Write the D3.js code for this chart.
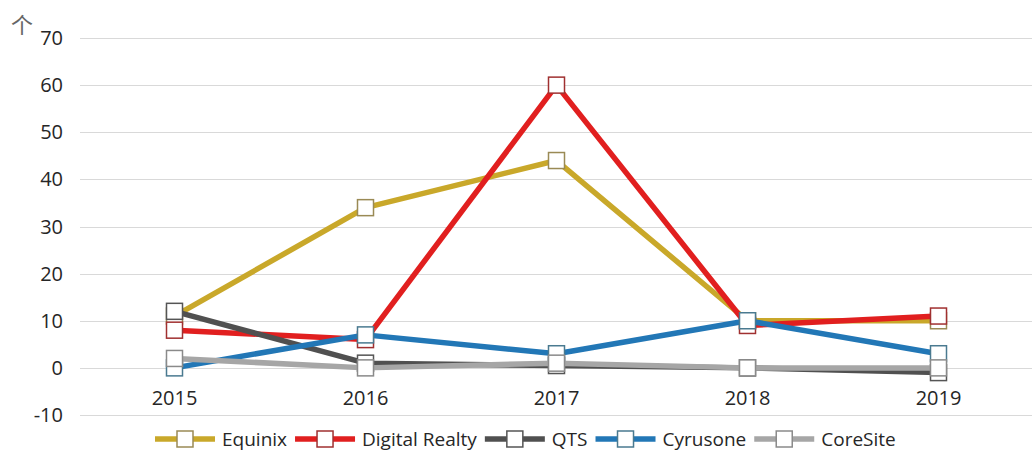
<!DOCTYPE html>
<html>
<head>
    <meta charset="UTF-8">
    <title>数据中心</title>
    <style>
        body { margin: 0; background: #fff; }
        text { font-family: "Open Sans", "Noto Sans", sans-serif; fill: #262626; }
    </style>
</head>
<body>
    <svg id="chart"></svg>
    <script src="https://cdn.jsdelivr.net/npm/d3@7"></script>
    <script>
        const width = 1032;
        const height = 452;

        // data
        const years = ['2015', '2016', '2017', '2018', '2019'];
        const seriesNames = ['Equinix', 'Digital Realty', 'QTS', 'Cyrusone', 'CoreSite'];
        const equinix = [11, 34, 44, 10, 10];
        const digitalRealty = [8, 6, 60, 9, 11];
        const qts = [12, 1, 0.5, 0, -1];
        const cyrusone = [0, 7, 3, 10, 3];
        const coresite = [2, 0, 1, 0, 0];
        const yTicks = [-10, 0, 10, 20, 30, 40, 50, 60, 70];
        const unitLabel = '个';

        const lineColors = ['#c9a82a', '#e11f1f', '#505050', '#2277b6', '#a6a6a6'];
        const markerStroke = ['#9a8a55', '#a03030', '#555555', '#4a7a90', '#8a8a8a'];
        const allValues = [equinix, digitalRealty, qts, cyrusone, coresite];
        const series = seriesNames.map((name, i) => ({ name: name, values: allValues[i], color: lineColors[i], mark: markerStroke[i] }));

        const svg = d3.select('#chart')
            .attr('width', width)
            .attr('height', height);

        const x = d3.scalePoint()
            .domain(years)
            .range([79, 1034])
            .padding(0.5);

        const y = d3.scaleLinear()
            .domain([-10, 70])
            .range([415, 38]);

        // gridlines
        svg.append('g')
            .selectAll('line')
            .data(yTicks)
            .enter()
            .append('line')
            .attr('x1', 80)
            .attr('x2', width)
            .attr('y1', d => Math.round(y(d)) + 0.5)
            .attr('y2', d => Math.round(y(d)) + 0.5)
            .style('stroke', '#d9d9d9')
            .style('stroke-width', 1);

        // y labels
        svg.append('g')
            .selectAll('text')
            .data(yTicks)
            .enter()
            .append('text')
            .attr('x', 63)
            .attr('y', d => y(d))
            .attr('dy', '0.35em')
            .attr('text-anchor', 'end')
            .style('font-size', '20px')
            .text(d => d);

        // x labels
        svg.append('g')
            .selectAll('text')
            .data(years)
            .enter()
            .append('text')
            .attr('x', d => x(d))
            .attr('y', 398)
            .attr('dy', '0.35em')
            .attr('text-anchor', 'middle')
            .style('font-size', '20px')
            .text(d => d);

        svg.append('text')
            .attr('x', 22)
            .attr('y', 33)
            .attr('text-anchor', 'middle')
            .style('font-family', '"Noto Sans CJK SC", sans-serif')
            .style('font-size', '22px')
            .style('fill', '#666')
            .text(unitLabel);

        const line = d3.line()
            .x((d, i) => x(years[i]))
            .y(d => y(d));

        const ms = 16;

        series.forEach(s => {
            const g = svg.append('g');
            g.append('path')
                .attr('d', line(s.values))
                .style('fill', 'none')
                .style('stroke', s.color)
                .style('stroke-width', 5.5)
                .style('stroke-linejoin', 'round');
            g.selectAll('rect')
                .data(s.values)
                .enter()
                .append('rect')
                .attr('x', (d, i) => x(years[i]) - ms / 2)
                .attr('y', d => y(d) - ms / 2)
                .attr('width', ms)
                .attr('height', ms)
                .style('fill', '#fff')
                .style('stroke', s.mark)
                .style('stroke-width', 1.5);
        });

        // legend
        const legend = svg.append('g');
        let lx = 155;
        const ly = 439;
        series.forEach(s => {
            legend.append('line')
                .attr('x1', lx)
                .attr('x2', lx + 60)
                .attr('y1', ly)
                .attr('y2', ly)
                .style('stroke', s.color)
                .style('stroke-width', 5.5);
            legend.append('rect')
                .attr('x', lx + 30 - ms / 2)
                .attr('y', ly - ms / 2)
                .attr('width', ms)
                .attr('height', ms)
                .style('fill', '#fff')
                .style('stroke', s.mark)
                .style('stroke-width', 1.5);
            const t = legend.append('text')
                .attr('x', lx + 67)
                .attr('y', ly)
                .attr('dy', '0.35em')
                .style('font-size', '19px')
                .text(s.name);
            lx += 67 + t.node().getComputedTextLength() + 8;
        });
    </script>
</body>
</html>
